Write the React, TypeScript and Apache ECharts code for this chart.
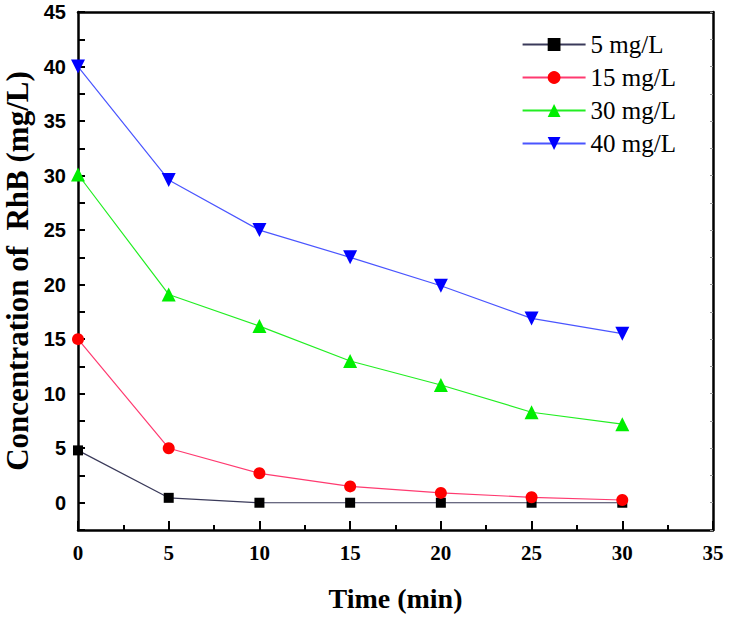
import React, { useEffect, useRef } from "react";
import * as echarts from "echarts";

const times = [0, 5, 10, 15, 20, 25, 30];
const s5 = [4.8, 0.45, 0, 0, 0, 0, 0];
const s15 = [15.0, 5.0, 2.7, 1.5, 0.9, 0.5, 0.25];
const s30 = [30.1, 19.1, 16.2, 13.0, 10.8, 8.3, 7.2];
const s40 = [40.0, 29.6, 25.0, 22.5, 19.9, 16.9, 15.5];
const seriesNames = ["5 mg/L", "15 mg/L", "30 mg/L", "40 mg/L"];

export default function App() {
  const ref = useRef<HTMLDivElement>(null);
  useEffect(() => {
    if (!ref.current) return;
    const chart = echarts.init(ref.current, null, { renderer: "svg" });
    const pair = (arr: number[]) => times.map((t, i) => [t, arr[i]]);
    const mk = (name: string, data: number[], lineColor: string, symColor: string, symbol: string, size: number, rotate = 0) => ({
      name,
      type: "line",
      data: pair(data),
      symbol,
      symbolSize: size,
      symbolRotate: rotate,
      clip: false,
      lineStyle: { color: lineColor, width: 1.2 },
      itemStyle: { color: symColor },
      z: 3,
    });
    chart.setOption({
      animation: false,
      backgroundColor: "#ffffff",
      grid: { left: 78, right: 16, top: 12, bottom: 88, outerBoundsMode: "none", containLabel: false },
      legend: {
        orient: "vertical",
        right: 48,
        top: 27,
        itemWidth: 63,
        itemHeight: 16,
        itemGap: 8,
        textStyle: { fontFamily: "Liberation Serif", fontSize: 25, lineHeight: 25, color: "#000" },
        data: seriesNames,
      },
      xAxis: [
        {
          type: "value",
          min: 0,
          max: 35,
          interval: 5,
          name: "Time (min)",
          nameLocation: "middle",
          nameGap: 54,
          nameTextStyle: { fontFamily: "Liberation Serif", fontWeight: "bold", fontSize: 28, color: "#000" },
          axisLine: { onZero: false, lineStyle: { color: "#000", width: 2.5 } },
          axisTick: { inside: true, length: 9, lineStyle: { color: "#000", width: 2 } },
          minorTick: { show: true, splitNumber: 2, length: 5, lineStyle: { color: "#000", width: 2 } },
          axisLabel: { fontFamily: "Liberation Serif", fontWeight: "bold", fontSize: 21, color: "#000", margin: 12 },
          splitLine: { show: false },
        },
        {
          type: "value",
          position: "top",
          min: 0,
          max: 35,
          interval: 5,
          axisLine: { show: true, onZero: false, lineStyle: { color: "#000", width: 2.5 } },
          axisTick: { show: false },
          axisLabel: { show: false },
          splitLine: { show: false },
        },
      ],
      yAxis: [
        {
          type: "value",
          min: -2.5,
          max: 45,
          interval: 2.5,
          name: "Concentration of  RhB (mg/L)",
          nameLocation: "middle",
          nameGap: 44,
          nameTextStyle: { fontFamily: "Liberation Serif", fontWeight: "bold", fontSize: 31, color: "#000" },
          axisLine: { show: true, onZero: false, lineStyle: { color: "#000", width: 2.5 } },
          axisTick: { inside: true, length: 7, lineStyle: { color: "#000", width: 2 } },
          axisLabel: {
            fontFamily: "Liberation Sans",
            fontWeight: "bold",
            fontSize: 20,
            color: "#000",
            margin: 12,
            formatter: (v: number) => (v >= 0 && Math.abs(v % 5) < 1e-6 ? String(v) : ""),
          },
          splitLine: { show: false },
        },
        {
          type: "value",
          position: "right",
          min: -2.5,
          max: 45,
          interval: 2.5,
          axisLine: { show: true, onZero: false, lineStyle: { color: "#000", width: 2.5 } },
          axisTick: { inside: true, length: 3, lineStyle: { color: "#999", width: 1 } },
          axisLabel: { show: false },
          splitLine: { show: false },
        },
      ],
      series: [
        mk(seriesNames[0], s5, "#3a3a5a", "#000000", "rect", 10),
        mk(seriesNames[1], s15, "#ff3a70", "#ff0000", "circle", 12),
        mk(seriesNames[2], s30, "#22ee22", "#00ee00", "triangle", 14),
        mk(seriesNames[3], s40, "#4a55ff", "#0000ff", "triangle", 14, 180),
      ],
    });
    return () => chart.dispose();
  }, []);
  return <div ref={ref} style={{ width: 729, height: 618, position: "absolute", left: 0, top: 0 }} />;
}
